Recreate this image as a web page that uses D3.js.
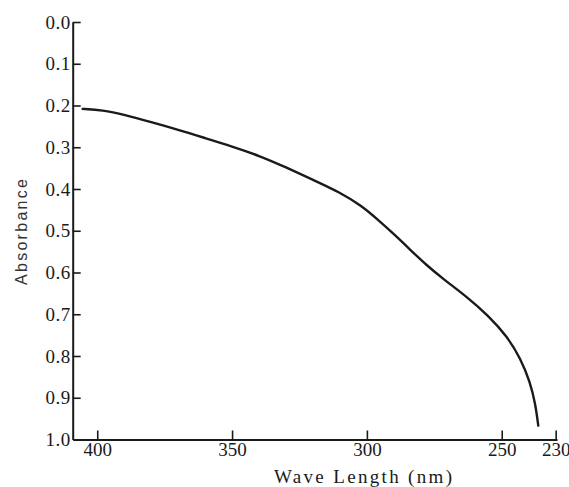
<!DOCTYPE html>
<html><head><meta charset="utf-8">
<script src="https://cdn.jsdelivr.net/npm/d3@7"></script>
<style>body{margin:0;background:#fff}svg{display:block}</style>
</head><body>
<svg id="c" width="569" height="487"></svg>
<script>
const wavelength = [405.8,398.0,390.0,380.0,370.0,360.0,350.0,340.0,330.0,320.0,310.0,302.0,296.0,290.0,284.0,278.0,271.0,263.0,255.0,248.0,243.0,239.5,237.5,236.4];
const absorbance = [0.208,0.211,0.222,0.240,0.258,0.278,0.298,0.320,0.348,0.378,0.408,0.440,0.473,0.508,0.545,0.582,0.619,0.658,0.703,0.753,0.806,0.862,0.915,0.969];
const xTicks = [400,350,300,250,230];
const yTicks = [0.0,0.1,0.2,0.3,0.4,0.5,0.6,0.7,0.8,0.9,1.0];

const svg = d3.select("#c");
const ink = "#1a1a1a";
const x = d3.scaleLinear().domain([409.1, 229.5]).range([72.7, 557]);
const y = d3.scaleLinear().domain([0, 1]).range([22, 439.5]);

const serif = "'Liberation Serif','Times New Roman',serif";

const gy = svg.append("g").attr("transform", `translate(${x.range()[0]},0)`)
  .call(d3.axisLeft(y).tickValues(yTicks).tickFormat(d3.format(".1f")).tickSize(-8).tickSizeOuter(0).tickPadding(2));
gy.selectAll("text").attr("font-family", serif).attr("font-size", 19).attr("fill", ink).attr("letter-spacing", 0.5);
gy.selectAll("line").attr("stroke", ink).attr("stroke-width", 1.6);
gy.select(".domain").attr("stroke", ink).attr("stroke-width", 2);
gy.selectAll(".tick").filter(d => d === 1).select("line").remove();

const gx = svg.append("g").attr("transform", `translate(0,${y.range()[1]})`)
  .call(d3.axisBottom(x).tickValues(xTicks).tickFormat(d3.format("d")).tickSize(-9).tickSizeOuter(0).tickPadding(3));
gx.selectAll("text").attr("font-family", serif).attr("font-size", 19).attr("fill", ink);
gx.selectAll("line").attr("stroke", ink).attr("stroke-width", 1.6);
gx.select(".domain").attr("stroke", ink).attr("stroke-width", 2);

const pts = wavelength.map((w, i) => [w, absorbance[i]]);
svg.append("path").datum(pts)
  .attr("d", d3.line().x(d => x(d[0])).y(d => y(d[1])).curve(d3.curveBasis))
  .attr("fill", "none").attr("stroke", ink).attr("stroke-width", 2.4);

svg.append("text").attr("x", 274).attr("y", 483)
  .attr("font-family", serif).attr("font-size", 19).attr("fill", ink)
  .attr("textLength", 178).attr("lengthAdjust", "spacing")
  .text("Wave Length (nm)");

svg.append("text").attr("transform", "translate(27,232) rotate(-90)")
  .attr("text-anchor", "middle")
  .attr("font-family", "'Liberation Sans',Arial,sans-serif").attr("font-size", 16).attr("fill", "#333")
  .attr("textLength", 106).attr("lengthAdjust", "spacing")
  .text("Absorbance");
</script>
</body></html>
